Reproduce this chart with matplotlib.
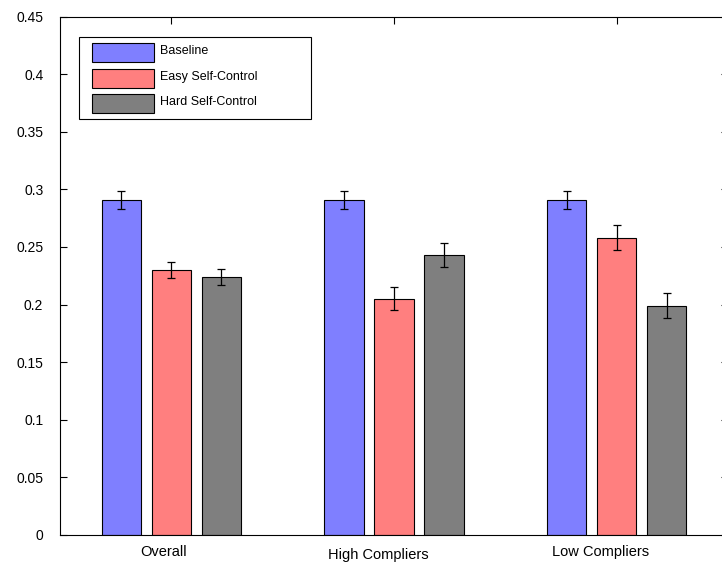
import numpy as np
import matplotlib
matplotlib.use('Agg')
import matplotlib.pyplot as plt
import matplotlib.transforms as mtransforms
from matplotlib.patches import Rectangle

plt.rcParams['font.family'] = ['Liberation Sans', 'DejaVu Sans']

# 그룹 / 조건
groups = ['Overall', 'High Compliers', 'Low Compliers']
conditions = ['Baseline', 'Easy Self-Control', 'Hard Self-Control']
colors = ['#7f7fff', '#ff7f7f', '#7f7f7f']

# 평균값과 오차
baseline = [0.291, 0.291, 0.291]
easy = [0.230, 0.205, 0.258]
hard = [0.224, 0.243, 0.199]
baseline_err = [0.0078, 0.0078, 0.0078]
easy_err = [0.0070, 0.0100, 0.0110]
hard_err = [0.0070, 0.0100, 0.0110]

means = [baseline, easy, hard]
errs = [baseline_err, easy_err, hard_err]

W, H = 722, 562
AX_L, AX_R, AX_T, AX_B = 60, 728, 16.5, 535

fig = plt.figure(figsize=(W / 100, H / 100), dpi=100)
ax = fig.add_axes([AX_L / W, (H - AX_B) / H, (AX_R - AX_L) / W, (AX_B - AX_T) / H])

x = np.arange(1, len(groups) + 1)
width = 0.177
offsets = [-0.224, 0.0, 0.224]

for i, cond in enumerate(conditions):
    ax.bar(x + offsets[i], means[i], width, color=colors[i],
           edgecolor='black', linewidth=0.8, zorder=2)
    ax.errorbar(x + offsets[i], means[i], yerr=errs[i], fmt='none',
                ecolor='black', elinewidth=0.9, capsize=3, capthick=0.9, zorder=3)

ax.set_xlim(0.5, 3.5)
ax.set_ylim(0, 0.45)
ax.set_yticks(np.arange(0, 0.451, 0.05))
ax.set_yticklabels(['0', '0.05', '0.1', '0.15', '0.2', '0.25', '0.3', '0.35', '0.4', '0.45'])
ax.set_xticks(x)
ax.set_xticklabels(groups)

# 축 눈금: 안쪽 방향, 위/오른쪽에도 표시
ax.tick_params(axis='y', direction='in', length=5, width=0.8, left=True, right=True,
               labelsize=10, pad=12)
ax.tick_params(axis='x', direction='in', length=5, width=0.8, bottom=False, top=True,
               labelsize=10.5, pad=7)
for s in ax.spines.values():
    s.set_linewidth(0.8)

# x 라벨 위치 미세 조정 (픽셀 단위)
label_shift = [(-8, 0), (-16, -3), (-16, 0)]
for lbl, (dx, dy) in zip(ax.get_xticklabels(), label_shift):
    lbl.set_transform(lbl.get_transform() +
                      mtransforms.ScaledTranslation(dx / 100, dy / 100, fig.dpi_scale_trans))


# 범례 (픽셀 위치 -> axes 좌표)
def to_ax(px, py):
    return (px - AX_L) / (AX_R - AX_L), (AX_B - py) / (AX_B - AX_T)


def ax_w(dpx):
    return dpx / (AX_R - AX_L)


def ax_h(dpy):
    return dpy / (AX_B - AX_T)


bx, by = to_ax(79, 119)
ax.add_patch(Rectangle((bx, by), ax_w(232), ax_h(82), transform=ax.transAxes,
                       facecolor='white', edgecolor='black', linewidth=0.8, zorder=5))
row_top = [43, 69, 94]
for i, cond in enumerate(conditions):
    px, py = to_ax(92, row_top[i] + 19)
    ax.add_patch(Rectangle((px, py), ax_w(62), ax_h(19), transform=ax.transAxes,
                           facecolor=colors[i], edgecolor='black', linewidth=0.8, zorder=6))
    tx, ty = to_ax(160, row_top[i] + 8)
    ax.text(tx, ty, cond, transform=ax.transAxes, fontsize=9, ha='left', va='center', zorder=7)

fig.savefig('out.png', dpi=100)
